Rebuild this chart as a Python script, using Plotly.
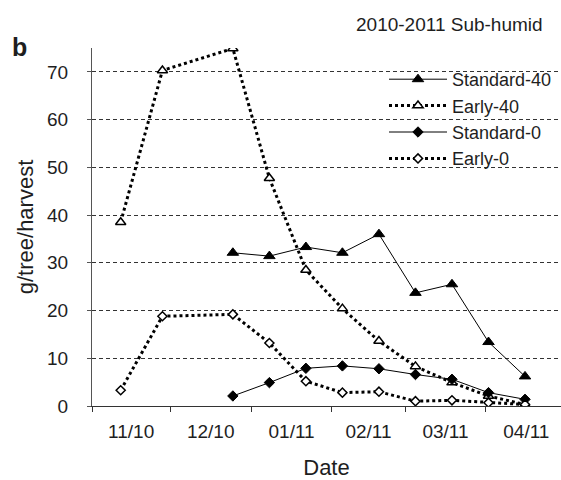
import plotly.graph_objects as go

# ---- data ----
dates_early = ["2010-11-12", "2010-11-28", "2010-12-25", "2011-01-08", "2011-01-22",
               "2011-02-05", "2011-02-19", "2011-03-05", "2011-03-19", "2011-04-02",
               "2011-04-16"]
dates_standard = ["2010-12-25", "2011-01-08", "2011-01-22", "2011-02-05", "2011-02-19",
                  "2011-03-05", "2011-03-19", "2011-04-02", "2011-04-16"]

standard_40 = [32.1, 31.4, 33.3, 32.1, 36.0, 23.7, 25.5, 13.4, 6.2]
early_40 = [38.5, 70.3, 74.9, 47.7, 28.5, 20.4, 13.6, 8.3, 4.9, 2.1, 0.3]
standard_0 = [2.1, 4.9, 7.9, 8.4, 7.8, 6.6, 5.6, 2.8, 1.4]
early_0 = [3.3, 18.8, 19.2, 13.2, 5.2, 2.8, 3.0, 1.0, 1.2, 0.7, 0.3]

y_ticks = [0, 10, 20, 30, 40, 50, 60, 70]

FONT = "Liberation Sans, Arial, sans-serif"
INK = "#1e1e1e"

W, H = 561, 480
ML, MR, MT, MB = 92, 0, 48, 74
plot_w = W - ML - MR
plot_h = H - MT - MB


def px_x(px):
    return (px - ML) / plot_w


def px_y(py):
    return (H - MB - py) / plot_h


fig = go.Figure()

fig.add_trace(go.Scatter(
    x=dates_standard, y=standard_40, name="Standard-40", mode="lines+markers",
    line=dict(color="black", width=1),
    marker=dict(symbol="triangle-up", size=10, color="black",
                line=dict(color="black", width=1))))
fig.add_trace(go.Scatter(
    x=dates_early, y=early_40, name="Early-40", mode="lines+markers",
    line=dict(color="black", width=3, dash="dot"),
    marker=dict(symbol="triangle-up", size=9, color="white",
                line=dict(color="black", width=1.5))))
fig.add_trace(go.Scatter(
    x=dates_standard, y=standard_0, name="Standard-0", mode="lines+markers",
    line=dict(color="black", width=1),
    marker=dict(symbol="diamond", size=8, color="black",
                line=dict(color="black", width=1))))
fig.add_trace(go.Scatter(
    x=dates_early, y=early_0, name="Early-0", mode="lines+markers",
    line=dict(color="black", width=3, dash="dot"),
    marker=dict(symbol="diamond", size=7, color="white",
                line=dict(color="black", width=1.5))))

fig.update_layout(
    width=W, height=H,
    margin=dict(l=ML, r=MR, t=MT, b=MB),
    paper_bgcolor="white", plot_bgcolor="white",
    font=dict(family=FONT, size=19, color=INK),
    showlegend=True,
    legend=dict(x=px_x(384), y=px_y(61), xanchor="left", yanchor="top",
                bgcolor="rgba(0,0,0,0)", borderwidth=0,
                font=dict(family=FONT, size=18, color=INK),
                itemwidth=58, tracegroupgap=0),
    annotations=[
        dict(text="<b>b</b>", x=px_x(10), y=px_y(31), xref="paper", yref="paper",
             xanchor="left", yanchor="top", showarrow=False,
             font=dict(family=FONT, size=25, color=INK)),
        dict(text="2010-2011 Sub-humid", x=px_x(545), y=px_y(24), xref="paper", yref="paper",
             xanchor="right", yanchor="middle", showarrow=False,
             font=dict(family=FONT, size=19, color=INK)),
    ],
)

fig.update_xaxes(
    type="date",
    range=["2010-11-01", "2011-04-29 19:00"],
    dtick="M1", tick0="2010-11-01", tickformat="%m/%y", ticklabelmode="period",
    showline=True, linecolor="#333333", linewidth=1.2,
    ticks="outside", ticklen=5, tickcolor="#333333", tickwidth=1.2,
    showgrid=False, zeroline=False,
    ticklabelstandoff=3,
    tickfont=dict(family=FONT, size=19, color=INK),
    title=dict(text="Date", font=dict(family=FONT, size=22, color=INK), standoff=20),
)
fig.update_yaxes(
    range=[0, 75], tickvals=y_ticks,
    showline=True, linecolor="#555555", linewidth=1.2,
    ticks="outside", ticklen=4, tickcolor="#555555",
    showgrid=True, gridcolor="#333333", gridwidth=1, griddash="4px,3px",
    zeroline=False,
    ticklabelstandoff=15,
    tickfont=dict(family=FONT, size=19, color=INK),
    title=dict(text="g/tree/harvest", font=dict(family=FONT, size=22, color=INK), standoff=7),
)

fig.write_html(
    "out.html",
    config={"displayModeBar": False},
    post_script="document.body.style.margin='0';document.body.style.overflow='hidden';",
)
